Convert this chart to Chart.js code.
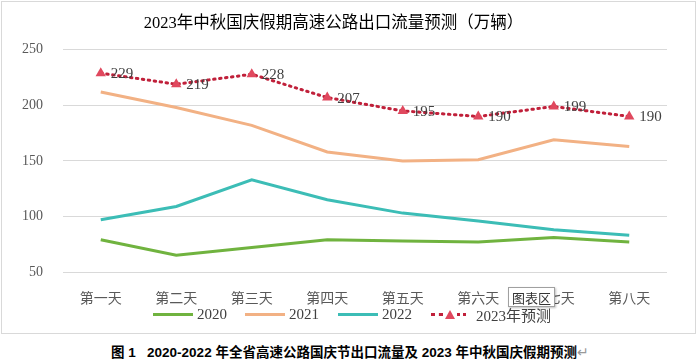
<!DOCTYPE html>
<html lang="zh">
<head>
<meta charset="UTF-8" />
<title>2023年中秋国庆假期高速公路出口流量预测</title>
<style>
  body { margin: 0; background: #fff; }
  .wrap { position: relative; width: 700px; height: 361px; }
  .frame {
    position: absolute; left: 1px; top: 1px; width: 695px; height: 333px;
    border: 1px solid #d9d9d9; box-sizing: border-box;
  }
  #chart { position: absolute; left: 0; top: 0; }
  #legend {
    position: absolute; left: 0; top: 305px; width: 700px; height: 18px;
    font: 15px "Liberation Serif", "Noto Sans CJK SC", serif; color: #404040;
  }
  #legend .item { position: absolute; top: 0; display: flex; align-items: center; height: 18px; }
  #legend .ln { display: inline-block; width: 40px; height: 0; border-top: 3px solid; margin-right: 4px; }
  .tip {
    position: absolute; left: 508px; top: 287px; padding: 0 3px; height: 18px; line-height: 18px;
    font: 13px "Noto Sans CJK SC", sans-serif; color: #333; background: #fff;
    border: 1px solid #a0a0a0; box-shadow: 1px 1px 2px rgba(0,0,0,0.25);
  }
  .caption {
    position: absolute; left: 0; top: 341px; width: 700px; text-align: center;
    font: bold 13.5px "Liberation Sans", "Noto Sans CJK SC", sans-serif; color: #000; white-space: pre;
  }
</style>
<script src="https://cdn.jsdelivr.net/npm/chart.js"></script>
</head>
<body>
<div class="wrap">
  <div class="frame"></div>
  <canvas id="chart" width="700" height="305"></canvas>
  <div id="legend"></div>
  <div class="tip">图表区</div>
  <div class="caption">图 1   2020-2022 年全省高速公路国庆节出口流量及 2023 年中秋国庆假期预测<span style="color:#999;font-weight:normal">↵</span></div>
</div>
<script>
const days = ["第一天", "第二天", "第三天", "第四天", "第五天", "第六天", "第七天", "第八天"];
const v2020 = [79, 65, 72, 79, 78, 77, 81, 77];
const v2021 = [212, 198, 182, 158, 150, 151, 169, 163];
const v2022 = [97, 109, 133, 115, 103, 96, 88, 83];
const v2023 = [229, 219, 228, 207, 195, 190, 199, 190];
const yTicks = [50, 100, 150, 200, 250];

const serif = '"Liberation Serif", "Noto Sans CJK SC", serif';
const colors = { c2020: "#70b33f", c2021: "#f2b184", c2022: "#3cbdb6", c2023: "#c0203a", mark: "#e0485e" };

// labels next to the 2023 points
const pointLabels = {
  id: "pointLabels",
  afterDatasetsDraw(chart) {
    const { ctx } = chart;
    const meta = chart.getDatasetMeta(3);
    ctx.save();
    ctx.font = "15px " + serif;
    ctx.fillStyle = "#404040";
    ctx.textBaseline = "middle";
    meta.data.forEach((pt, i) => {
      ctx.fillText(String(v2023[i]), pt.x + 10, pt.y + 1);
    });
    ctx.restore();
  }
};

new Chart(document.getElementById("chart"), {
  type: "line",
  data: {
    labels: days,
    datasets: [
      { label: "2020", data: v2020, borderColor: colors.c2020, borderWidth: 3, pointRadius: 0, tension: 0 },
      { label: "2021", data: v2021, borderColor: colors.c2021, borderWidth: 3, pointRadius: 0, tension: 0 },
      { label: "2022", data: v2022, borderColor: colors.c2022, borderWidth: 3, pointRadius: 0, tension: 0 },
      {
        label: "2023年预测", data: v2023, borderColor: colors.c2023, borderWidth: 3,
        borderDash: [1.5, 4.5], borderCapStyle: "round",
        pointStyle: "triangle", pointRadius: 6, pointBackgroundColor: colors.mark,
        pointBorderColor: colors.mark, pointBorderWidth: 0, tension: 0
      }
    ]
  },
  options: {
    responsive: false,
    animation: false,
    layout: { padding: { left: 0, right: 33, top: 0, bottom: 0 } },
    plugins: {
      legend: { display: false },
      tooltip: { enabled: false },
      title: {
        display: true,
        text: "2023年中秋国庆假期高速公路出口流量预测（万辆）",
        color: "#000",
        font: { family: serif, size: 16.5, weight: "normal" },
        padding: { top: 14, bottom: 16 }
      }
    },
    scales: {
      x: {
        offset: true,
        afterFit(scale) { scale.height = 33; },
        grid: { display: false },
        border: { display: false },
        ticks: { color: "#595959", font: { family: serif, size: 14 }, padding: 11 }
      },
      y: {
        min: 50, max: 250,
        afterFit(scale) { scale.width = 63; },
        afterBuildTicks(scale) { scale.ticks = yTicks.map(v => ({ value: v })); },
        grid: { color: "#d9d9d9", drawTicks: false },
        border: { display: false },
        ticks: { color: "#595959", font: { family: serif, size: 14 }, padding: 20 }
      }
    }
  },
  plugins: [pointLabels]
});

// legend under the chart
const legend = document.getElementById("legend");
const items = [
  { left: 153, html: '<span class="ln" style="border-color:' + colors.c2020 + '"></span>2020' },
  { left: 245, html: '<span class="ln" style="border-color:' + colors.c2021 + '"></span>2021' },
  { left: 338, html: '<span class="ln" style="border-color:' + colors.c2022 + '"></span>2022' },
  { left: 431, html: '<span style="display:inline-block;width:12px;border-top:3px dotted ' + colors.c2023 + '"></span>' +
      '<span style="display:inline-block;width:0;height:0;border-left:5px solid transparent;border-right:5px solid transparent;border-bottom:9px solid ' + colors.mark + ';margin:0 2px"></span>' +
      '<span style="display:inline-block;width:9px;border-top:3px dotted ' + colors.c2023 + ';margin-right:10px"></span>2023年预测' }
];
items.forEach(it => {
  const d = document.createElement("div");
  d.className = "item";
  d.style.left = it.left + "px";
  d.innerHTML = it.html;
  legend.appendChild(d);
});
</script>
</body>
</html>
